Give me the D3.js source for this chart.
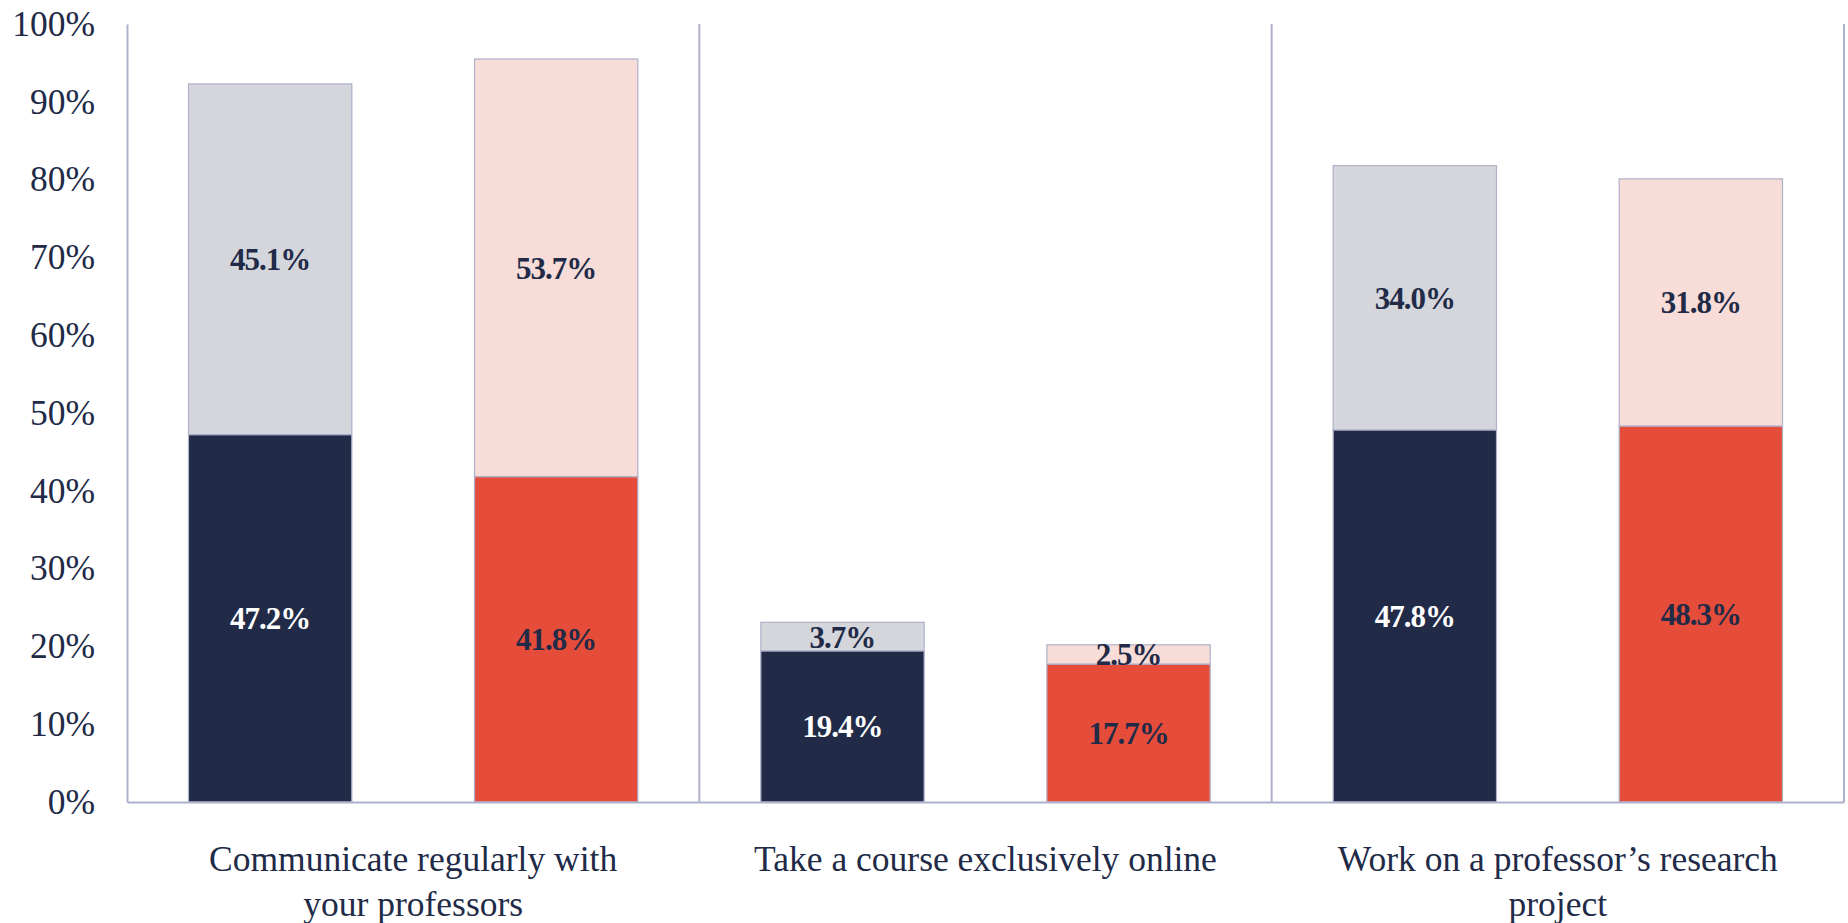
<!DOCTYPE html>
<html>
<head>
<meta charset="utf-8">
<script src="https://cdn.jsdelivr.net/npm/d3@7"></script>
<style>
  html, body { margin: 0; padding: 0; background: #fff; }
  svg { display: block; }
</style>
</head>
<body>
<div id="chart"></div>
<script>
// chart data
const categories = [
  "Communicate regularly with\nyour professors",
  "Take a course exclusively online",
  "Work on a professor\u2019s research\nproject"
];
const seriesKeys = ["navy", "red"];
const navyBase = [47.2, 19.4, 47.8];
const navyTop = [45.1, 3.7, 34.0];
const redBase = [41.8, 17.7, 48.3];
const redTop = [53.7, 2.5, 31.8];
const yTicks = [0, 10, 20, 30, 40, 50, 60, 70, 80, 90, 100];

const width = 1848, height = 923;
const margin = { top: 24, right: 4, bottom: 121, left: 127 };

const colors = {
  navy: { base: "#212a47", top: "#d5d6dc", baseText: "#ffffff", topText: "#212a47" },
  red: { base: "#e54d3a", top: "#f8dcd8", baseText: "#212a47", topText: "#212a47" }
};
const lineColor = "#aeb1cb";
const textColor = "#212a47";
const serif = "'Liberation Serif', 'Times New Roman', serif";

const svg = d3.select("#chart").append("svg")
  .attr("width", width)
  .attr("height", height);

const x0 = d3.scaleBand()
  .domain(categories)
  .range([margin.left, width - margin.right])
  .padding(0);

const x1 = d3.scaleBand()
  .domain(seriesKeys)
  .range([0, x0.bandwidth()])
  .paddingInner(0.429)
  .paddingOuter(0.215);

const y = d3.scaleLinear()
  .domain([0, 100])
  .range([height - margin.bottom, margin.top]);

// build stacked rows
const rows = [];
categories.forEach((c, i) => {
  rows.push({ cat: c, key: "navy", base: navyBase[i], top: navyTop[i] });
  rows.push({ cat: c, key: "red", base: redBase[i], top: redTop[i] });
});

const g = svg.append("g");

// bars
rows.forEach(d => {
  const bx = x0(d.cat) + x1(d.key);
  const bw = x1.bandwidth();
  const col = colors[d.key];

  g.append("rect")
    .attr("x", bx)
    .attr("y", y(d.base + d.top))
    .attr("width", bw)
    .attr("height", y(d.base) - y(d.base + d.top))
    .attr("fill", col.top)
    .attr("stroke", lineColor)
    .attr("stroke-width", 1.2);

  g.append("rect")
    .attr("x", bx)
    .attr("y", y(d.base))
    .attr("width", bw)
    .attr("height", y(0) - y(d.base))
    .attr("fill", col.base)
    .attr("stroke", lineColor)
    .attr("stroke-width", 1.2);

  // value labels
  g.append("text")
    .attr("x", bx + bw / 2)
    .attr("y", y(d.base / 2))
    .attr("dy", "0.35em")
    .attr("text-anchor", "middle")
    .attr("font-family", serif)
    .attr("font-weight", "bold")
    .attr("font-size", 31)
    .attr("letter-spacing", -1)
    .attr("fill", col.baseText)
    .text(d.base.toFixed(1) + "%");

  g.append("text")
    .attr("x", bx + bw / 2)
    .attr("y", y(d.base + d.top / 2))
    .attr("dy", "0.35em")
    .attr("text-anchor", "middle")
    .attr("font-family", serif)
    .attr("font-weight", "bold")
    .attr("font-size", 31)
    .attr("letter-spacing", -1)
    .attr("fill", col.topText)
    .text(d.top.toFixed(1) + "%");
});

// group separators and right edge
const seps = categories.slice(1).map(c => x0(c)).concat([x0.range()[1]]);
g.selectAll(".sep")
  .data(seps)
  .join("line")
  .attr("class", "sep")
  .attr("x1", d => d).attr("x2", d => d)
  .attr("y1", y(100)).attr("y2", y(0))
  .attr("stroke", lineColor)
  .attr("stroke-width", 2);

// y axis
const yAxis = svg.append("g")
  .attr("transform", `translate(${margin.left},0)`)
  .call(d3.axisLeft(y).tickValues(yTicks).tickSize(0).tickSizeOuter(0).tickPadding(32)
    .tickFormat(d => d + "%"));
yAxis.select(".domain").attr("stroke", lineColor).attr("stroke-width", 2);
yAxis.selectAll("text")
  .attr("font-family", serif)
  .attr("font-size", 35.5)
  .attr("fill", textColor);

// x axis baseline
const xAxis = svg.append("g")
  .attr("transform", `translate(0,${y(0)})`)
  .call(d3.axisBottom(x0).tickSize(0).tickSizeOuter(0).tickFormat(""));
xAxis.select(".domain").attr("stroke", lineColor).attr("stroke-width", 2);

// category labels
categories.forEach(c => {
  const lines = c.split("\n");
  const t = svg.append("text")
    .attr("x", x0(c) + x0.bandwidth() / 2)
    .attr("y", y(0) + 69)
    .attr("text-anchor", "middle")
    .attr("font-family", serif)
    .attr("font-size", 35.5)
    .attr("fill", textColor);
  lines.forEach((l, i) => {
    t.append("tspan")
      .attr("x", x0(c) + x0.bandwidth() / 2)
      .attr("dy", i === 0 ? 0 : 45)
      .text(l);
  });
});
</script>
</body>
</html>
